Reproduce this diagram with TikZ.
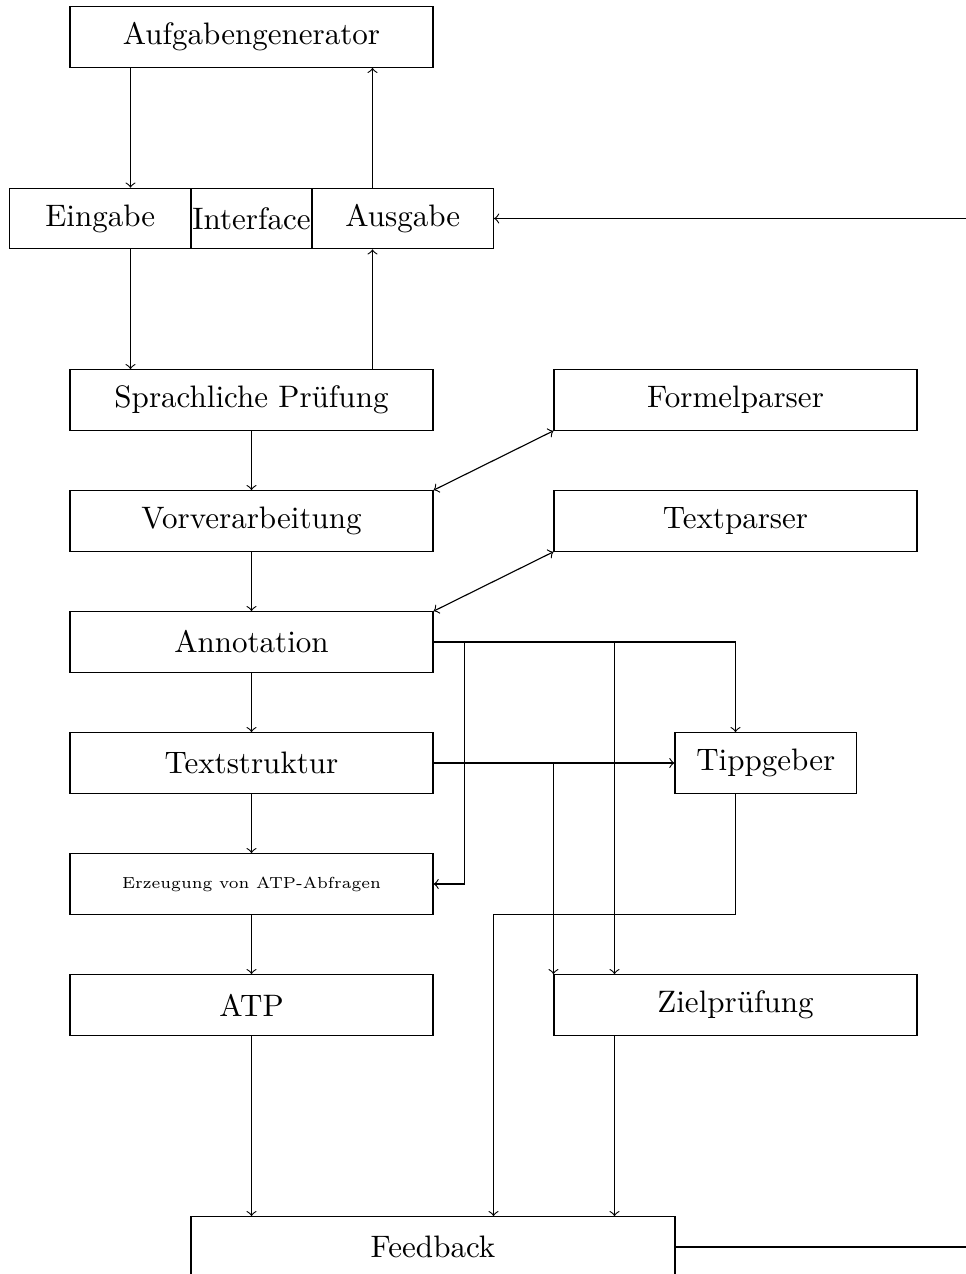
\documentclass[tikz,border=0pt]{standalone}
\usepackage{tikz}

\begin{document}
\begin{tikzpicture}[font=\fontsize{10.95}{13.6}\selectfont,
  stage/.style={draw, minimum width=4.5cm, minimum height=0.75cm},
  half/.style={draw, minimum width=2.25cm, minimum height=0.75cm},
  link/.style={->}]
\useasboundingbox (-3.118,-10.835) rectangle (8.857,4.959);
\clip (-3.118,-10.835) rectangle (8.857,4.959);
\node[stage] (gen) at (0.000,4.500) {Aufgabengenerator};
\node[half] (eingabe) at (-1.875,2.250) {Eingabe};
\node[draw, minimum width=1.5cm, minimum height=0.75cm, inner xsep=0pt] (iface) at (0.000,2.250) {Interface};
\node[half] (ausgabe) at (1.875,2.250) {Ausgabe};
\node[stage] (sprach) at (0.000,0.000) {Sprachliche Prüfung};
\node[stage] (vor) at (0.000,-1.500) {Vorverarbeitung};
\node[stage] (anno) at (0.000,-3.000) {Annotation};
\node[stage] (struk) at (0.000,-4.500) {Textstruktur};
\node[stage, font=\fontsize{5.65}{7}\selectfont] (erz) at (0.000,-6.000) {Erzeugung von ATP-Abfragen};
\node[stage] (atp) at (0.000,-7.500) {ATP};
\node[stage, minimum width=6cm] (feed) at (2.250,-10.500) {Feedback};
\node[stage] (formel) at (6.000,0.000) {Formelparser};
\node[stage] (textp) at (6.000,-1.500) {Textparser};
\node[half] (tipp) at (6.375,-4.500) {Tippgeber};
\node[stage] (ziel) at (6.000,-7.500) {Zielprüfung};
\draw[link] ([xshift=-1.5cm]gen.south) -- ([xshift=-1.5cm]gen.south |- eingabe.north);
\draw[link] ([xshift=-0.375cm]ausgabe.north) -- ([xshift=-0.375cm]ausgabe.north |- gen.south);
\draw[link] ([xshift=0.375cm]eingabe.south) -- ([xshift=0.375cm]eingabe.south |- sprach.north);
\draw[link] ([xshift=1.5cm]sprach.north) -- ([xshift=1.5cm]sprach.north |- ausgabe.south);
\draw[link] (sprach) -- (vor);
\draw[link] (vor) -- (anno);
\draw[link] (anno) -- (struk);
\draw[link] (struk) -- (erz);
\draw[link] (erz) -- (atp);
\draw[link] (atp.south) -- (atp.south |- feed.north);
\draw[<->] (vor.north east) -- (formel.south west);
\draw[<->] (anno.north east) -- (textp.south west);
\draw[link] (anno.east) -- ++(0.380,0) |- (erz.east);
\draw[link] (anno.east) -| ([xshift=-1.5cm]ziel.north);
\draw[link] (anno.east) -| ([xshift=-0.375cm]tipp.north);
\draw[link] (struk.east) -| (ziel.north west);
\draw[link] (struk.east) -- (tipp.west);
\draw[link] ([xshift=-0.375cm]tipp.south) -- ([xshift=-0.375cm]tipp.south |- erz.south) -| ([xshift=0.75cm]feed.north);
\draw[link] ([xshift=-1.5cm]ziel.south) -- ([xshift=-1.5cm]ziel.south |- feed.north);
\draw[link] (feed.east) -- ++(4.000,0) |- (ausgabe.east);
\end{tikzpicture}
\end{document}
